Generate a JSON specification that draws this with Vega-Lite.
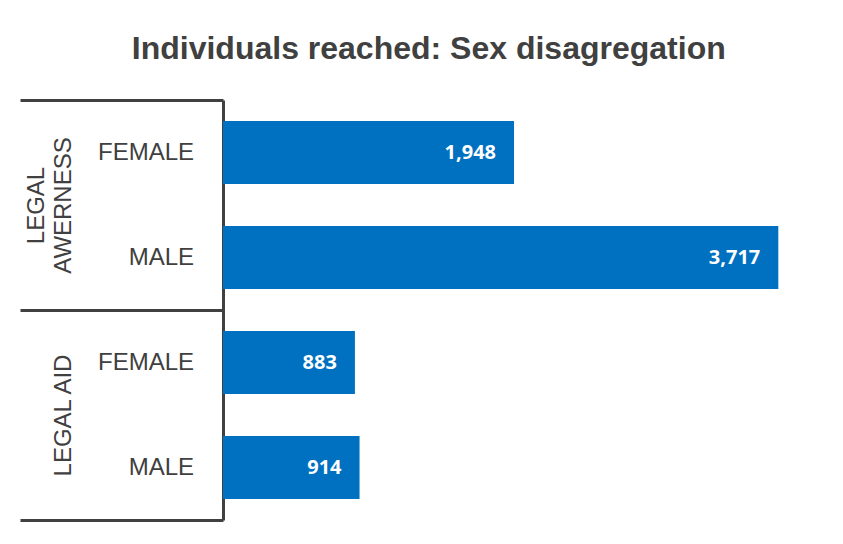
{
  "$schema": "https://vega.github.io/schema/vega-lite/v6.json",
  "width": 620,
  "height": 420,
  "padding": {"left": 18, "top": 32, "right": 0, "bottom": 10},
  "background": "white",
  "title": {
    "text": "Individuals reached: Sex disagregation",
    "font": "Liberation Sans",
    "fontSize": 32,
    "fontWeight": "bold",
    "color": "#404040",
    "anchor": "middle",
    "frame": "bounds",
    "dx": -2,
    "offset": 33
  },
  "data": {
    "values": [
      {"group": "LEGAL AWERNESS", "sex": "FEMALE", "value": 1948},
      {"group": "LEGAL AWERNESS", "sex": "MALE", "value": 3717},
      {"group": "LEGAL AID", "sex": "FEMALE", "value": 883},
      {"group": "LEGAL AID", "sex": "MALE", "value": 914}
    ]
  },
  "encoding": {
    "y": {
      "field": "group",
      "type": "nominal",
      "sort": ["LEGAL AWERNESS", "LEGAL AID"],
      "scale": {"paddingInner": 0, "paddingOuter": 0},
      "axis": {
        "title": null,
        "domain": true,
        "domainColor": "#404040",
        "domainWidth": 3,
        "ticks": true,
        "tickBand": "extent",
        "tickColor": "#404040",
        "tickWidth": 3,
        "tickSize": 203,
        "labelAngle": 270,
        "labelAlign": "center",
        "labelBaseline": "bottom",
        "labelPadding": -28,
        "labelFont": "Liberation Sans",
        "labelFontSize": 24,
        "labelColor": "#404040",
        "labelLineHeight": 27,
        "labelLimit": 400,
        "labelExpr": "datum.value == 'LEGAL AWERNESS' ? ['LEGAL', 'AWERNESS'] : ['', datum.label]"
      }
    },
    "yOffset": {
      "field": "sex",
      "type": "nominal",
      "sort": ["FEMALE", "MALE"],
      "scale": {"paddingInner": 0.4, "paddingOuter": 0.2}
    }
  },
  "layer": [
    {
      "mark": {"type": "bar", "color": "#0070C0"},
      "encoding": {
        "x": {
          "field": "value",
          "type": "quantitative",
          "scale": {"domain": [0, 4150], "nice": false},
          "axis": null
        }
      }
    },
    {
      "mark": {
        "type": "text",
        "align": "right",
        "baseline": "middle",
        "dx": -18,
        "font": "Open Sans",
        "fontWeight": "bold",
        "fontSize": 20,
        "color": "white"
      },
      "encoding": {
        "x": {"field": "value", "type": "quantitative"},
        "text": {"field": "value", "type": "quantitative", "format": ","}
      }
    },
    {
      "mark": {
        "type": "text",
        "align": "right",
        "baseline": "middle",
        "dx": -29,
        "font": "Liberation Sans",
        "fontSize": 24,
        "color": "#404040"
      },
      "encoding": {
        "x": {"datum": 0, "type": "quantitative"},
        "text": {"field": "sex", "type": "nominal"}
      }
    }
  ],
  "config": {"view": {"stroke": null}}
}
